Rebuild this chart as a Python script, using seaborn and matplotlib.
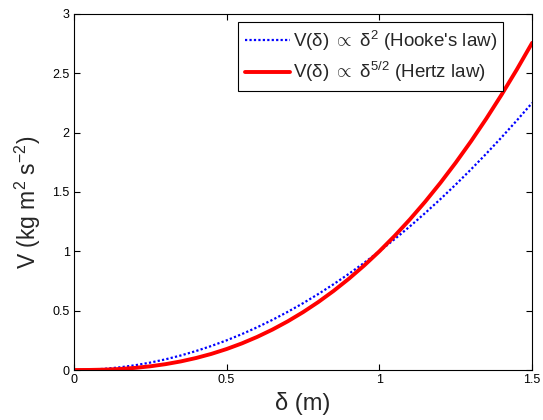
import matplotlib
matplotlib.use("Agg")
import matplotlib.pyplot as plt
import seaborn as sns
import pandas as pd

delta = [0.0, 0.05, 0.1, 0.15, 0.2, 0.25, 0.3, 0.35, 0.4, 0.45, 0.5, 0.55, 0.6, 0.65, 0.7, 0.75,
         0.8, 0.85, 0.9, 0.95, 1.0, 1.05, 1.1, 1.15, 1.2, 1.25, 1.3, 1.35, 1.4, 1.45, 1.5]
hooke = [0.0, 0.0025, 0.01, 0.0225, 0.04, 0.0625, 0.09, 0.1225, 0.16, 0.2025, 0.25, 0.3025,
         0.36, 0.4225, 0.49, 0.5625, 0.64, 0.7225, 0.81, 0.9025, 1.0, 1.1025, 1.21, 1.3225,
         1.44, 1.5625, 1.69, 1.8225, 1.96, 2.1025, 2.25]
hertz = [0.0, 0.0006, 0.0032, 0.0087, 0.0179, 0.0313, 0.0493, 0.0725, 0.1012, 0.1358, 0.1768,
         0.2243, 0.2789, 0.3406, 0.41, 0.4871, 0.5724, 0.6661, 0.7684, 0.8797, 1.0, 1.1297,
         1.2691, 1.4182, 1.5774, 1.7469, 1.9269, 2.1176, 2.3191, 2.5318, 2.7557]
xticks = [0, 0.5, 1, 1.5]
xtick_labels = ["0", "0.5", "1", "1.5"]
yticks = [0, 0.5, 1, 1.5, 2, 2.5, 3]
ytick_labels = ["0", "0.5", "1", "1.5", "2", "2.5", "3"]

sns.set_style("ticks")
plt.rcParams['font.family'] = ['Liberation Sans', 'DejaVu Sans']
plt.rcParams['mathtext.fontset'] = 'custom'
plt.rcParams['mathtext.rm'] = 'Liberation Sans'
plt.rcParams['mathtext.it'] = 'Liberation Sans'
plt.rcParams['mathtext.sf'] = 'Liberation Sans'

fig = plt.figure(figsize=(5.43, 4.2), dpi=100)
ax = fig.add_axes([0.136, 0.119, 0.844, 0.848])

df = pd.DataFrame({"delta": delta, "hooke": hooke, "hertz": hertz})
sns.lineplot(data=df, x="delta", y="hooke", ax=ax, color="blue", linestyle=(0, (1, 1)),
             linewidth=1.6, label=r"V(δ) $\propto$ δ$^{2}$ (Hooke's law)")
sns.lineplot(data=df, x="delta", y="hertz", ax=ax, color="red", linewidth=2.8,
             label=r"V(δ) $\propto$ δ$^{5/2}$ (Hertz law)")

ax.set_xlim(0, 1.5)
ax.set_ylim(0, 3)
ax.set_xticks(xticks)
ax.set_xticklabels(xtick_labels)
ax.set_yticks(yticks)
ax.set_yticklabels(ytick_labels)
ax.tick_params(direction="in", length=4, labelsize=9, colors="black", top=True, right=True,
               pad=3)
for s in ax.spines.values():
    s.set_visible(True)
    s.set_color("black")
    s.set_linewidth(0.8)
ax.set_xlabel("δ (m)", fontsize=17, labelpad=4)
ax.set_ylabel(r"V (kg m$^{2}$ s$^{-2}$)", fontsize=16.5)
ax.yaxis.set_label_coords(-0.068, 0.47)

leg = ax.legend(loc="upper right", bbox_to_anchor=(0.937, 0.9775), fontsize=13.5, frameon=True,
                fancybox=False, edgecolor="black", handlelength=2.4, borderaxespad=0,
                handletextpad=0.15, labelspacing=0.4, borderpad=0.35, framealpha=1)
leg.get_frame().set_linewidth(0.8)

fig.savefig("out.png", dpi=100)
